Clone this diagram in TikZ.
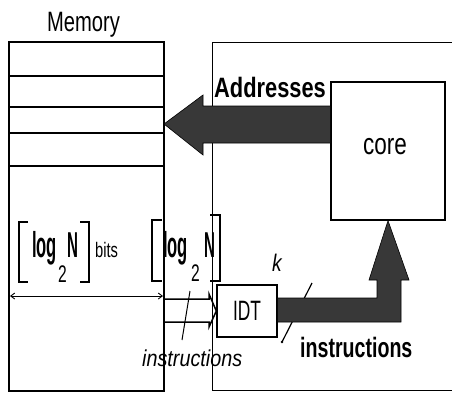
\documentclass[tikz,border=0pt]{standalone}
\usepackage{fontspec}
\setmainfont{Liberation Sans}
\usepackage{graphicx}
\usetikzlibrary{arrows.meta}
\newcommand{\nrw}[2]{\scalebox{#1}[1]{#2}}
\newcommand{\fs}[1]{\fontsize{#1}{#1}\selectfont}
\tikzset{
  box/.style={draw, line width=1.3pt, inner sep=0pt},
  fat/.style={fill=black!78, draw=black, line width=0.6pt},
  lbl/.style={inner sep=0pt},
  brk/.style={line width=1.8pt},
}
\begin{document}
\begin{tikzpicture}[x=1pt,y=-1pt]
\useasboundingbox (0,0) rectangle (452,394);
% memory
\node[box, minimum width=155pt, minimum height=349pt] (mem) at (86.5,216.5) {};
\foreach \yy in {76,107,133,166}
  \draw[line width=1.3pt] (mem.west |- 0,\yy) -- (mem.east |- 0,\yy);
\node[lbl, anchor=base west] (memt) at (47,31) {\fs{28}\nrw{0.72}{Memory}};
% processor box (cut at right edge)
\node[box, minimum width=260pt, minimum height=348pt, anchor=north west] (cpu) at (212,42) {};
% core
\node[box, minimum width=114pt, minimum height=138pt] (core) at (388,151) {};
\node[lbl, anchor=base] (coret) at (385,154) {\fs{30}\nrw{0.75}{core}};
% addresses arrow
\fill[fat] (core.west |- 0,106) -- (203,106) -- (203,95) -- (164,124) -- (203,155) -- (203,143) -- (core.west |- 0,143) -- cycle;
\node[lbl, anchor=base west] (addr) at (214,97) {\fs{28}\bfseries\nrw{0.78}{Addresses}};
% IDT
\node[box, minimum width=60pt, minimum height=52pt] (idt) at (247,311) {\fs{28}\nrw{0.62}{IDT}};
% slash over instruction bus
\coordinate (s1) at (282,342);
\coordinate (s2) at (312,283);
\draw[line width=1.2pt] (s1) -- (s2);
\fill (s1) circle (1.3pt);
% instructions arrow to core
\fill[fat] (idt.east |- 0,298) -- (377,298) -- (377,280) -- (369,280) -- (core.south) -- (409,280) -- (401,280) -- (401,322) -- (idt.east |- 0,322) -- cycle;
\node[lbl, anchor=base] (kk) at (277,271) {\fs{24}\itshape\nrw{0.8}{k}};
\node[lbl, anchor=base west] (instr) at (300,357) {\fs{28}\bfseries\nrw{0.7}{instructions}};
% hollow arrow memory -> IDT
\draw[line width=1.5pt, line join=miter] (mem.east |- 0,299) -- (209,299) -- (209,294) -- (idt.west) -- (209,327) -- (209,322) -- (mem.east |- 0,322);
\coordinate (p1) at (190,291);
\coordinate (p2) at (182,340);
\draw[line width=1pt] (p1) -- (p2);
\node[lbl, anchor=base west] (instrl) at (142,366) {\fs{23}\itshape\nrw{0.86}{instructions}};
% width arrow
\coordinate (w1) at (10,296);
\coordinate (w2) at (163,296);
\draw[line width=0.9pt, {Straight Barb[length=4pt,width=6pt]}-{Straight Barb[length=4pt,width=6pt]}] (w1) -- (w2);
% first bracket group
\draw[brk] (28,222) -- (19,222) -- (19,282) -- (28,282);
\draw[brk] (80,222) -- (89,222) -- (89,282) -- (80,282);
\node[lbl, anchor=base west] (log1) at (32,257) {\fs{36}\bfseries\nrw{0.46}{log}};
\node[lbl, anchor=base west] (two1) at (58,282) {\fs{24}\nrw{0.65}{2}};
\node[lbl, anchor=base west] (n1) at (67,257) {\fs{36}\bfseries\nrw{0.42}{N}};
\node[lbl, anchor=base west] (bits) at (95,257) {\fs{21}\nrw{0.7}{bits}};
% second bracket group
\draw[brk] (162,220) -- (152,220) -- (152,281) -- (162,281);
\draw[brk] (210,215) -- (220,215) -- (220,281) -- (210,281);
\node[lbl, anchor=base west] (log2) at (163,257) {\fs{36}\bfseries\nrw{0.46}{log}};
\node[lbl, anchor=base west] (two2) at (191,281) {\fs{24}\nrw{0.65}{2}};
\node[lbl, anchor=base west] (n2) at (204,257) {\fs{36}\bfseries\nrw{0.42}{N}};
\end{tikzpicture}
\end{document}
